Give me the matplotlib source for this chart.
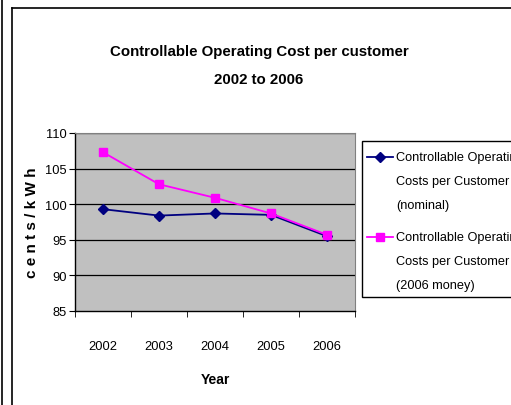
import matplotlib
matplotlib.use("Agg")
import matplotlib.pyplot as plt
from matplotlib.lines import Line2D
from matplotlib.patches import Rectangle
import numpy as np

plt.rcParams['font.family'] = ['Liberation Sans Narrow', 'Liberation Sans', 'DejaVu Sans']

years = ['2002', '2003', '2004', '2005', '2006']
nominal = [99.3, 98.4, 98.7, 98.5, 95.5]
money_2006 = [107.3, 102.8, 100.9, 98.7, 95.7]
label_nominal = ['Controllable Operating', 'Costs per Customer', '(nominal)']
label_2006 = ['Controllable Operating', 'Costs per Customer', '(2006 money)']

W, H = 511, 406
fig = plt.figure(figsize=(W / 100, H / 100), dpi=100)
ax = fig.add_axes([75 / W, 1 - 312 / H, 280 / W, 178 / H])
ax.set_facecolor('#C0C0C0')

x = np.arange(len(years))
ax.plot(x, nominal, color='#000080', marker='D', markersize=5, linewidth=1.3)
ax.plot(x, money_2006, color='#FF00FF', marker='s', markersize=6, linewidth=1.3)

ax.set_xlim(-0.5, len(years) - 0.5)
ax.set_ylim(85, 110)
ax.set_yticks(np.arange(85, 111, 5))
for v in range(90, 111, 5):
    ax.axhline(v, color='black', linewidth=0.9, zorder=0)

# category labels sit between the tick marks, like Excel
ax.set_xticks(x)
ax.set_xticklabels(years)
ax.set_xticks(np.arange(-0.5, len(years), 1), minor=True)
ax.tick_params(axis='x', which='major', length=0, pad=21, labelsize=9.3)
ax.tick_params(axis='x', which='minor', length=4, direction='out')
ax.tick_params(axis='y', length=4, direction='out', labelsize=9.3, pad=2)

for side in ['top', 'right']:
    ax.spines[side].set_color('#808080')
for side in ['left', 'bottom']:
    ax.spines[side].set_color('black')
    ax.spines[side].set_linewidth(1.0)

ax.set_xlabel('Year', fontsize=10, fontweight='bold', labelpad=14)
ax.set_ylabel('c e n t s / k W h', fontsize=11, fontweight='bold', labelpad=4)

fig.text(259 / W, 1 - 52 / H, 'Controllable Operating Cost per customer',
         ha='center', va='center', fontsize=10.8, fontweight='bold')
fig.text(259 / W, 1 - 80 / H, '2002 to 2006',
         ha='center', va='center', fontsize=10.8, fontweight='bold')

# legend box, runs off the right edge like the reference
fig.add_artist(Rectangle((362 / W, 1 - 298 / H), 200 / W, 156 / H,
                         transform=fig.transFigure, facecolor='white',
                         edgecolor='black', linewidth=1.0))
entries = [(label_nominal, '#000080', 'D', 5, 158), (label_2006, '#FF00FF', 's', 6, 238)]
for lines, color, marker, ms, y0 in entries:
    handle = Line2D([367 / W, 380 / W, 393 / W], [1 - y0 / H] * 3, color=color,
                    linewidth=1.3, marker=marker, markersize=ms, markevery=[1],
                    transform=fig.transFigure)
    fig.add_artist(handle)
    for i, line in enumerate(lines):
        fig.text(396 / W, 1 - (y0 + 24 * i) / H, line, ha='left', va='center', fontsize=9.2)

# outer frame of the chart
fig.add_artist(Line2D([1.5 / W, 1.5 / W], [0, 1], color='black', linewidth=1.2))
fig.add_artist(Line2D([12 / W, 12 / W], [0, 1 - 9 / H], color='black', linewidth=1.2))
fig.add_artist(Line2D([12 / W, 1], [1 - 9 / H, 1 - 9 / H], color='black', linewidth=1.2))

fig.savefig('out.png', dpi=100)
